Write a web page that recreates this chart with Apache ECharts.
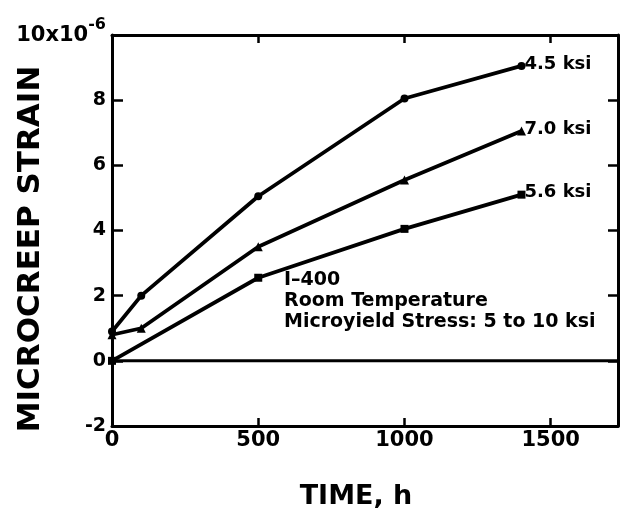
<!DOCTYPE html>
<html><head><meta charset="utf-8">
<script src="https://cdn.jsdelivr.net/npm/echarts@6/dist/echarts.min.js"></script>
<style>html,body{margin:0;padding:0;background:#fff}#c{width:621px;height:513px}</style>
</head><body><div id="c"></div>
<script>
// Data
var hours45 = [0, 100, 500, 1000, 1400];
var strain45 = [0.9, 2.0, 5.05, 8.05, 9.05];
var hours70 = [0, 100, 500, 1000, 1400];
var strain70 = [0.8, 1.0, 3.5, 5.55, 7.05];
var hours56 = [0, 500, 1000, 1400];
var strain56 = [0.0, 2.55, 4.05, 5.1];
var seriesNames = ['4.5 ksi', '7.0 ksi', '5.6 ksi'];
var xTicks = [0, 500, 1000, 1500];
var yTicks = [-2, 0, 2, 4, 6, 8, 10];
var xTitle = 'TIME, h';
var yTitle = 'MICROCREEP STRAIN';
var noteLines = ['I\u2013400', 'Room Temperature', 'Microyield Stress: 5 to 10 ksi'];

function pairs(xs, ys){ return xs.map(function(x,i){return [x, ys[i]];}); }

var FONT = '"DejaVu Sans", "Liberation Sans", sans-serif';
var chart = echarts.init(document.getElementById('c'));
var axisLine = {show:true, onZero:false, lineStyle:{color:'#000', width:3}};
function mkSeries(name, data, symbol, size){
  return {
    name:name, type:'line', data:data, symbol:symbol, symbolSize:size,
    xAxisIndex:0, yAxisIndex:0,
    lineStyle:{color:'#000', width:3.8}, itemStyle:{color:'#000'},
    endLabel:{show:true, formatter:'{a}', color:'#000', fontFamily:FONT, fontWeight:'bold', fontSize:18, distance:3, offset:[0,-2]},
    animation:false
  };
}
chart.setOption({
  animation:false,
  grid:{left:112, top:35, right:3, bottom:87, containLabel:false},
  xAxis:[{
    type:'value', min:0, max:1730, interval:500, position:'bottom',
    axisLine:axisLine, axisTick:{show:true, inside:true, length:8, lineStyle:{width:2.5,color:'#000'}},
    splitLine:{show:false},
    axisLabel:{color:'#000', fontFamily:FONT, fontWeight:'bold', fontSize:21, margin:4,
      formatter:function(v){ return xTicks.indexOf(v)>=0 ? String(v) : ''; }}
  },{
    type:'value', min:0, max:1730, interval:500, position:'top',
    axisLine:axisLine, axisTick:{show:true, inside:true, length:8, lineStyle:{width:2.5,color:'#000'}},
    axisLabel:{show:false}, splitLine:{show:false}
  }],
  yAxis:[{
    type:'value', min:-2, max:10, interval:2, position:'left',
    axisLine:axisLine, axisTick:{show:true, inside:true, length:11, lineStyle:{width:2.5,color:'#000'}},
    splitLine:{show:false},
    axisLabel:{color:'#000', fontFamily:FONT, fontWeight:'bold', fontSize:19, margin:6,
      formatter:function(v){ if(v===10) return '{a|10x10}{b|-6}'; return yTicks.indexOf(v)>=0 ? String(v) : ''; },
      rich:{a:{fontFamily:FONT, fontWeight:'bold', fontSize:21, color:'#000', padding:[2,0,0,0]},
            b:{fontFamily:FONT, fontWeight:'bold', fontSize:16, color:'#000', verticalAlign:'bottom', padding:[0,0,20,0]}}
    }
  },{
    type:'value', min:-2, max:10, interval:2, position:'right',
    axisLine:axisLine, axisTick:{show:true, inside:true, length:10, lineStyle:{width:2.5,color:'#000'}},
    axisLabel:{show:false}, splitLine:{show:false}
  }],
  series:[
    mkSeries(seriesNames[0], pairs(hours45, strain45), 'circle', 8),
    mkSeries(seriesNames[1], pairs(hours70, strain70), 'triangle', 9),
    mkSeries(seriesNames[2], pairs(hours56, strain56), 'rect', 8),
    {type:'line', data:[[0,0],[1730,0]], symbol:'none', lineStyle:{color:'#000', width:3}, silent:true, animation:false}
  ],
  graphic:[{
    type:'text', left:284, top:270,
    style:{text:noteLines.join('\n'), fill:'#000', font:'bold 19px '+FONT, lineHeight:21}
  },{
    type:'text', x:356, y:497,
    style:{text:xTitle, fill:'#000', font:'bold 27px '+FONT, textAlign:'center', textVerticalAlign:'middle'}
  },{
    type:'text', x:31, y:249, rotation:Math.PI/2,
    style:{text:yTitle, fill:'#000', font:'bold 31px '+FONT, textAlign:'center', textVerticalAlign:'middle'}
  }]
});
</script></body></html>
